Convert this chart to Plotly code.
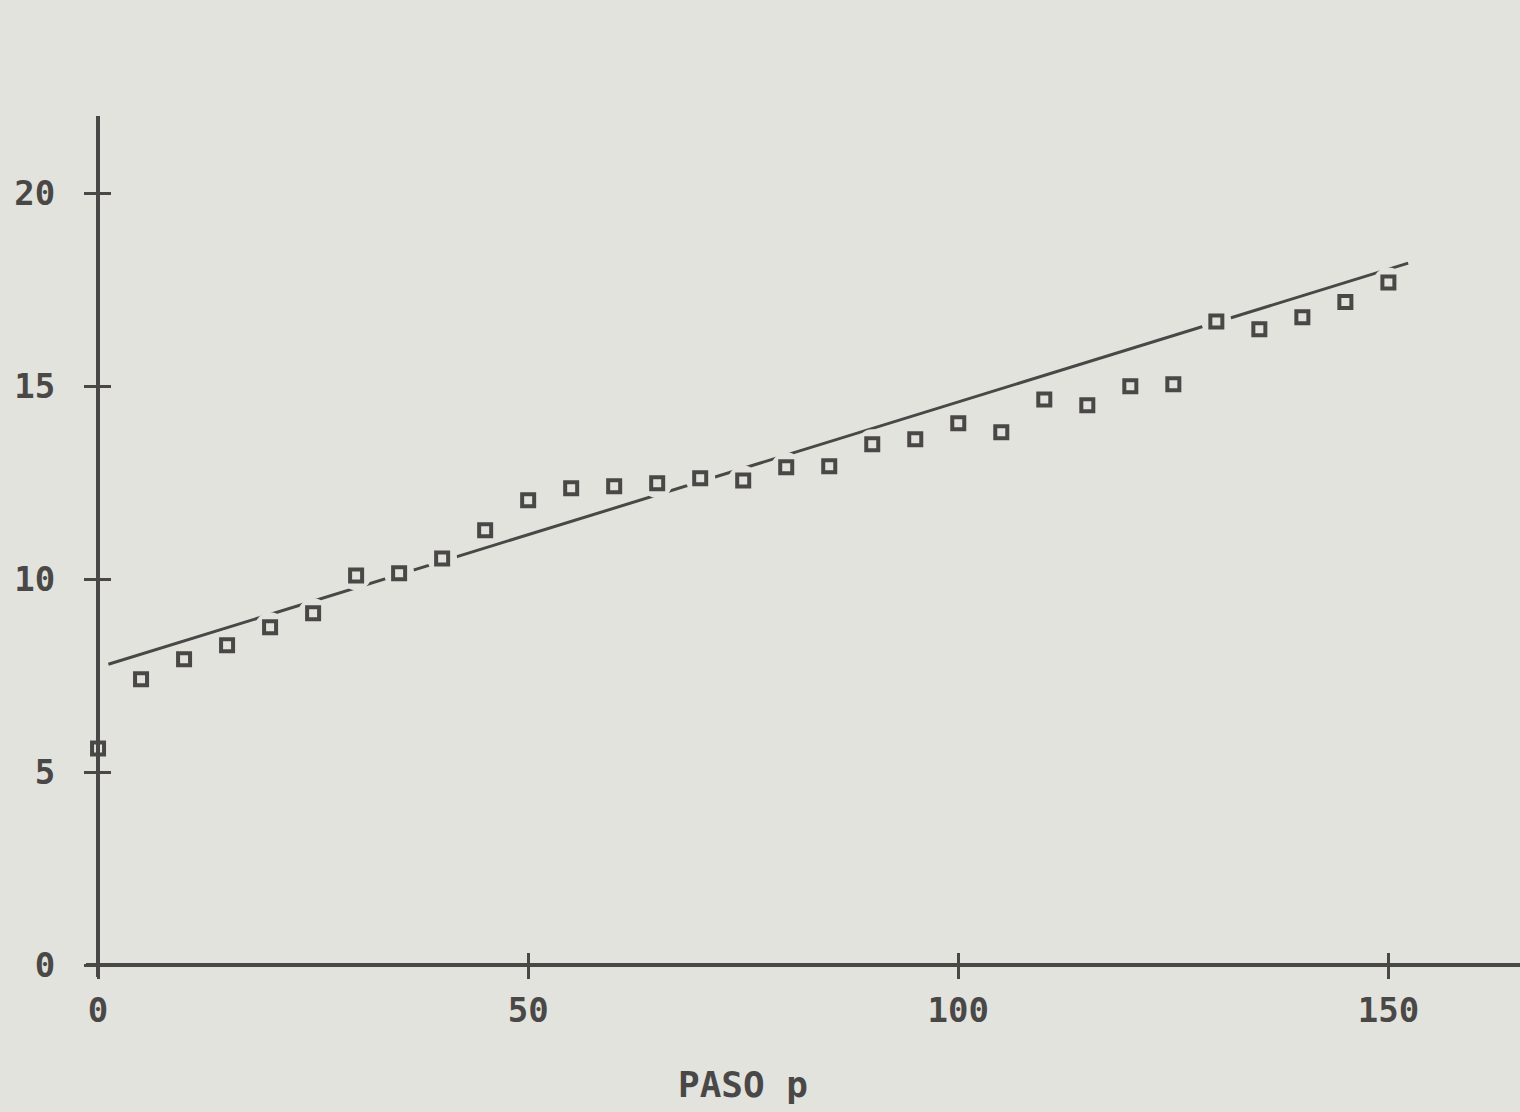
import plotly.graph_objects as go

# ---- data ----
paso = [0, 5, 10, 15, 20, 25, 30, 35, 40, 45, 50, 55, 60, 65, 70, 75,
        80, 85, 90, 95, 100, 105, 110, 115, 120, 125, 130, 135, 140, 145, 150]
valores = [5.62, 7.41, 7.93, 8.29, 8.76, 9.12, 10.10, 10.16, 10.54, 11.27, 12.05,
           12.36, 12.41, 12.49, 12.62, 12.56, 12.90, 12.93, 13.50, 13.63, 14.04,
           13.81, 14.66, 14.51, 15.00, 15.05, 16.68, 16.48, 16.79, 17.18, 17.69]

recta_x = [1.2, 152.3]
recta_y = [7.80, 18.19]

x_ticks = [0, 50, 100, 150]
y_ticks = [0, 5, 10, 15, 20]
x_title = "PASO p"

# ---- style ----
BG = "#e3e3dd"
INK = "#4a4847"
FONT = "DejaVu Sans Mono"

X_RANGE = [-1.4, 165.3]
Y_RANGE = [-0.3, 22.0]
x_pos = (0 - X_RANGE[0]) / (X_RANGE[1] - X_RANGE[0])
y_pos = (0 - Y_RANGE[0]) / (Y_RANGE[1] - Y_RANGE[0])

fig = go.Figure()

# fitted straight line
fig.add_trace(go.Scatter(x=recta_x, y=recta_y, mode="lines",
                         line=dict(color=INK, width=3), hoverinfo="skip",
                         showlegend=False))
# plotter-style gap around the points
fig.add_trace(go.Scatter(x=paso, y=valores, mode="markers",
                         marker=dict(symbol="circle", size=30, color=BG,
                                     line=dict(width=0)),
                         hoverinfo="skip", showlegend=False))
# data points
fig.add_trace(go.Scatter(x=paso, y=valores, mode="markers",
                         marker=dict(symbol="square", size=12, color=BG,
                                     line=dict(color=INK, width=4)),
                         showlegend=False))

tickfont = dict(family=FONT, size=34, color=INK, weight="bold")
axis_common = dict(showgrid=False, zeroline=False, linecolor=INK, linewidth=4,
                   tickcolor=INK, tickwidth=3, ticklen=12, tickfont=tickfont)

fig.update_layout(
    width=1520, height=1112,
    paper_bgcolor=BG, plot_bgcolor=BG,
    margin=dict(l=86, r=0, t=116, b=135),
    xaxis=dict(range=X_RANGE, tickvals=x_ticks, ticks="outside", showline=True,
               anchor="free", position=y_pos, ticklabelstandoff=2,
               **axis_common),
    yaxis=dict(range=Y_RANGE, tickvals=y_ticks, ticks="outside", showline=True,
               anchor="free", position=x_pos, ticklabelstandoff=22,
               **axis_common),
    xaxis2=dict(range=X_RANGE, tickvals=x_ticks, ticks="inside", showline=False,
                overlaying="x", anchor="free", position=y_pos, side="bottom",
                showticklabels=False, showgrid=False, zeroline=False,
                tickcolor=INK, tickwidth=3, ticklen=12),
    yaxis2=dict(range=Y_RANGE, tickvals=y_ticks, ticks="inside", showline=False,
                overlaying="y", anchor="free", position=x_pos, side="left",
                showticklabels=False, showgrid=False, zeroline=False,
                tickcolor=INK, tickwidth=3, ticklen=12),
    annotations=[dict(text=x_title, xref="x", x=75, yref="paper", y=-0.125,
                      showarrow=False, yanchor="middle",
                      font=dict(family=FONT, size=36, color=INK, weight="bold"))],
)

# invisible trace to activate the secondary tick axes
fig.add_trace(go.Scatter(x=[None], y=[None], xaxis="x2", yaxis="y2",
                         showlegend=False, hoverinfo="skip"))

fig.write_html(
    "out.html",
    config={"displayModeBar": False},
    post_script="document.body.style.margin='0';"
                "document.body.style.background='" + BG + "';",
)
